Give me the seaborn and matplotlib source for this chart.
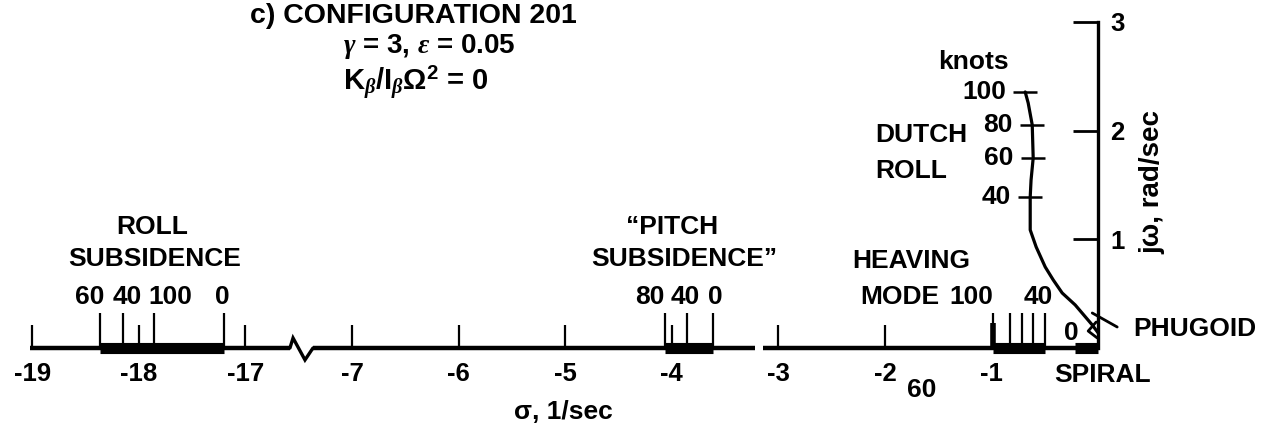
import numpy as np
import matplotlib
matplotlib.use("Agg")
import matplotlib.pyplot as plt
import seaborn as sns

# ---------------- root-locus data: sigma [1/sec], omega [rad/sec] ----------------
sigma_ticks = [-19, -18, -17, -7, -6, -5, -4, -3, -2, -1]
omega_ticks = [1, 2, 3]

# roll subsidence root versus forward speed (knots)
roll_speed = [60, 40, 100, 0]
roll_sigma = [-18.36, -18.15, -17.86, -17.20]

# "pitch subsidence" root
pitch_speed = [80, 40, 0]
pitch_sigma = [-4.06, -3.86, -3.61]

# heaving mode root
heave_sigma = [-0.985, -0.826, -0.713, -0.610, -0.497]
heave_speed_labels = ["100", "", "", "40", ""]

# spiral root
spiral_sigma = [-0.22, 0.0]

# dutch roll branch
dutch_sigma = [-0.685, -0.657, -0.619, -0.610, -0.630, -0.638, -0.638, -0.582,
               -0.497, -0.422, -0.338, -0.216, -0.056, 0.0]
dutch_omega = [2.355, 2.254, 2.052, 1.748, 1.545, 1.389, 1.086, 0.929,
               0.745, 0.626, 0.506, 0.396, 0.212, 0.138]
dutch_speed = [100, 80, 60, 40, 0]
dutch_speed_sigma = [-0.685, -0.619, -0.610, -0.638, 0.0]
dutch_speed_omega = [2.355, 2.052, 1.748, 1.389, 0.138]

# phugoid root near the origin
phugoid_sigma = [-0.019, -0.094, -0.009]
phugoid_omega = [0.239, 0.156, 0.092]
phugoid_lead_sigma = [-0.056, 0.178]
phugoid_lead_omega = [0.322, 0.193]

# ---------------- style ----------------
sns.set_theme(style="white")
plt.rcParams["font.family"] = ["Liberation Sans", "DejaVu Sans"]
plt.rcParams["font.weight"] = "bold"
plt.rcParams["text.color"] = "black"
plt.rcParams["mathtext.fontset"] = "custom"
plt.rcParams["mathtext.rm"] = "Liberation Sans:bold"
plt.rcParams["mathtext.bf"] = "Liberation Sans:bold"
plt.rcParams["mathtext.it"] = "Liberation Serif:italic"
FS = 19
INK = "black"

fig = plt.figure(figsize=(12.61, 4.26), dpi=100)
ax = fig.add_axes([0, 0, 1, 1])

# broken sigma axis: the span between -16.5 and -7.4 is squeezed out
brk_sig = [-100.0, -16.5, -7.4, 100.0]
brk_u = [-91.0, -7.5, -7.4, 100.0]


def fwd(x):
    return np.interp(x, brk_sig, brk_u)


def inv(u):
    return np.interp(u, brk_u, brk_sig)


ax.set_xscale("function", functions=(fwd, inv))
ax.set_xlim(-19.302, 1.527)
ax.set_ylim(-0.7176, 3.201)
u_space = ax.transLimits + ax.transAxes  # coordinates after the axis break

# ---- sigma axis line with break symbol and small gap ----
axis_lw = 3.2
for a, b in [(-19.02, -16.582), (-7.366, -3.22), (-3.145, 0.0)]:
    ax.plot([a, b], [0, 0], color=INK, lw=axis_lw, solid_capstyle="butt")
ax.plot([-7.582, -7.553, -7.441, -7.366], [0, 0.092, -0.110, 0],
        color=INK, lw=2.4, transform=u_space, solid_joinstyle="miter")

for side in ["top", "bottom", "left", "right"]:
    ax.spines[side].set_visible(False)
ax.spines["bottom"].set_position(("data", 0))
ax.spines["left"].set_position(("data", 0))
ax.spines["right"].set_position(("data", 0))
ax.spines["left"].set_visible(True)
ax.spines["left"].set_bounds(0, 3)
ax.spines["left"].set_linewidth(2.4)
ax.spines["left"].set_color(INK)

ax.set_xticks(sigma_ticks)
ax.set_xticklabels([f"{v}" for v in sigma_ticks])
ax.xaxis.set_minor_locator(matplotlib.ticker.NullLocator())
ax.tick_params(axis="x", which="major", direction="in", length=16.5, width=1.6,
               color=INK, bottom=True, top=False, labelsize=18.5, pad=10,
               labelcolor=INK)
ax.set_yticks(omega_ticks)
ax.set_yticklabels([f"{v}" for v in omega_ticks])
ax.tick_params(axis="y", which="major", direction="out", length=18, width=2.0,
               color=INK, left=True, right=False, labelleft=False,
               labelright=True, labelsize=18.5, pad=-9.5, labelcolor=INK)
for lab in ax.get_xticklabels() + ax.get_yticklabels():
    lab.set_fontweight("bold")

# ---- real roots: heavy bars along the axis ----
bar_lw = 8
for seg in [(min(roll_sigma), max(roll_sigma)),
            (min(pitch_sigma), max(pitch_sigma)),
            (min(heave_sigma), max(heave_sigma)),
            (spiral_sigma[0], spiral_sigma[1])]:
    sns.lineplot(x=list(seg), y=[0, 0], color=INK, lw=bar_lw, ax=ax,
                 estimator=None, sort=False)
for ln in ax.lines[-4:]:
    ln.set_solid_capstyle("butt")

# speed marks on the real roots
mark_h = 0.32
ax.vlines(roll_sigma, 0, mark_h, color=INK, lw=1.6)
ax.vlines(pitch_sigma, 0, mark_h, color=INK, lw=1.6)
ax.vlines(heave_sigma, 0, mark_h, color=INK, lw=1.6)
ax.vlines([heave_sigma[0]], 0, 0.23, color=INK, lw=4)

label_dy = 36.7  # points above the axis
roll_dx = [-8, 3, 12, -1]
for spd, s, dx in zip(roll_speed, roll_sigma, roll_dx):
    ax.annotate(f"{spd}", (s, 0), xytext=(dx, label_dy), textcoords="offset points",
                ha="center", va="center", fontsize=FS, fontweight="bold", color=INK)
pitch_dx = [-11, -1, 1.5]
for spd, s, dx in zip(pitch_speed, pitch_sigma, pitch_dx):
    ax.annotate(f"{spd}", (s, 0), xytext=(dx, label_dy), textcoords="offset points",
                ha="center", va="center", fontsize=FS, fontweight="bold", color=INK)
heave_dx = [-16, 0, 0, 3.5, 0]
for txt, s, dx in zip(heave_speed_labels, heave_sigma, heave_dx):
    if txt:
        ax.annotate(txt, (s, 0), xytext=(dx, label_dy), textcoords="offset points",
                    ha="center", va="center", fontsize=FS, fontweight="bold",
                    color=INK)

# ---- dutch roll branch ----
sns.lineplot(x=dutch_sigma, y=dutch_omega, sort=False, estimator=None,
             color=INK, lw=2.3, ax=ax)
ax.plot(dutch_speed_sigma[:-1], dutch_speed_omega[:-1], ls="none", marker="_",
        ms=17, mew=1.8, color=INK)
for spd, s, w in zip(dutch_speed, dutch_speed_sigma, dutch_speed_omega):
    ax.annotate(f"{spd}", (s, w), xytext=(-14, 0), textcoords="offset points",
                ha="right", va="center", fontsize=FS, fontweight="bold", color=INK)

# ---- phugoid ----
sns.lineplot(x=phugoid_sigma, y=phugoid_omega, sort=False, estimator=None,
             color=INK, lw=2.0, ax=ax)
sns.lineplot(x=phugoid_lead_sigma, y=phugoid_lead_omega, sort=False,
             estimator=None, color=INK, lw=2.0, ax=ax)

# ---- annotations ----
tkw = dict(fontsize=FS, fontweight="bold", color=INK)
fig.text(0.198, 0.962, "c) CONFIGURATION 201", ha="left", va="center",
         fontsize=20.5, fontweight="bold", color=INK)
fig.text(0.272, 0.890, r"$\gamma$ = 3, $\epsilon$ = 0.05", ha="left", va="center",
         fontsize=20, fontweight="bold", color=INK)
fig.text(0.272, 0.805, r"K$_{\beta}$/I$_{\beta}\Omega^{2}$ = 0", ha="left", va="center",
         fontsize=21, fontweight="bold", color=INK)
fig.text(0.1205, 0.467, "ROLL", ha="center", va="center", **tkw)
fig.text(0.123, 0.392, "SUBSIDENCE", ha="center", va="center", **tkw)
fig.text(0.533, 0.467, "\u201cPITCH", ha="center", va="center", **tkw)
fig.text(0.543, 0.392, "SUBSIDENCE\u201d", ha="center", va="center", **tkw)
fig.text(0.7224, 0.387, "HEAVING", ha="center", va="center", **tkw)
fig.text(0.682, 0.303, "MODE", ha="left", va="center", **tkw)
fig.text(0.694, 0.683, "DUTCH", ha="left", va="center", **tkw)
fig.text(0.694, 0.598, "ROLL", ha="left", va="center", **tkw)
fig.text(0.7716, 0.854, "knots", ha="center", va="center", **tkw)
fig.text(0.8985, 0.228, "PHUGOID", ha="left", va="center", **tkw)
fig.text(0.874, 0.120, "SPIRAL", ha="center", va="center", **tkw)
fig.text(0.731, 0.085, "60", ha="center", va="center", **tkw)
fig.text(0.9135, 0.573, "j\u03c9, rad/sec", ha="center", va="center", rotation=90,
         fontsize=20, fontweight="bold", color=INK)
fig.text(0.447, 0.033, "\u03c3, 1/sec", ha="center", va="center", **tkw)

fig.savefig("out.png", dpi=100)
